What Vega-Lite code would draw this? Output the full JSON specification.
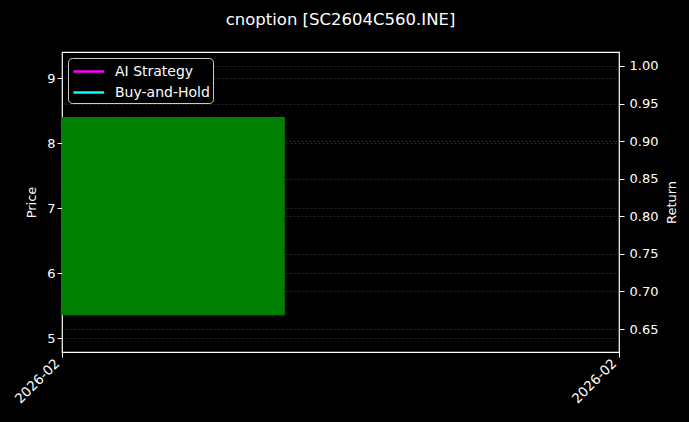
{
  "$schema": "https://vega.github.io/schema/vega-lite/v6.json",
  "width": 557,
  "height": 300,
  "autosize": {"type": "none"},
  "padding": {"left": 62, "top": 52, "right": 70, "bottom": 70},
  "background": "black",
  "title": {
    "text": "cnoption [SC2604C560.INE]",
    "color": "white",
    "font": "DejaVu Sans",
    "fontSize": 16.5,
    "fontWeight": "normal",
    "anchor": "middle",
    "offset": 24
  },
  "config": {
    "view": {"stroke": "white", "strokeWidth": 1.2},
    "axis": {
      "domain": false,
      "labelColor": "white",
      "labelFont": "DejaVu Sans",
      "labelFontSize": 13,
      "titleColor": "white",
      "titleFont": "DejaVu Sans",
      "titleFontSize": 13,
      "titleFontWeight": "normal",
      "tickColor": "white",
      "tickSize": 5,
      "gridColor": "#666666",
      "gridDash": [2, 2],
      "gridWidth": 0.7,
      "gridOpacity": 0.6
    },
    "legend": {
      "orient": "top-left",
      "offset": 6,
      "padding": 3,
      "strokeColor": "#cccccc",
      "fillColor": "black",
      "cornerRadius": 4,
      "labelColor": "white",
      "labelFont": "DejaVu Sans",
      "labelFontSize": 14,
      "labelOffset": 23,
      "symbolType": "M-0.9,0L2.5,0",
      "symbolSize": 324,
      "symbolStrokeWidth": 2.5,
      "rowPadding": 3
    }
  },
  "layer": [
    {
      "data": {
        "values": [
          {"start": "2026-02-10T00:00:00", "end": "2026-02-10T09:36:00", "open": 5.35, "close": 8.4}
        ]
      },
      "mark": {"type": "bar", "color": "green"},
      "encoding": {
        "x": {
          "field": "start",
          "type": "temporal",
          "scale": {"domain": [{"year": 2026, "month": 2, "date": 10}, {"year": 2026, "month": 2, "date": 11}]},
          "axis": {
            "title": null,
            "grid": false,
            "values": [{"year": 2026, "month": 2, "date": 10}, {"year": 2026, "month": 2, "date": 11}],
            "format": "%Y-%m",
            "labelAngle": -45,
            "labelAlign": "right",
            "labelBaseline": "middle",
            "labelPadding": 4,
            "labelOffset": -5,
            "labelFontSize": 13.5
          }
        },
        "x2": {"field": "end"},
        "y": {
          "field": "open",
          "type": "quantitative",
          "scale": {"domain": [4.785, 9.4], "nice": false, "zero": false},
          "axis": {"title": "Price", "orient": "left", "values": [5, 6, 7, 8, 9], "titlePadding": 8, "grid": true}
        },
        "y2": {"field": "close"}
      }
    },
    {
      "data": {
        "values": [
          {"date": "2026-02-10T00:00:00", "series": "AI Strategy", "ret": 1.0},
          {"date": "2026-02-10T00:00:00", "series": "Buy-and-Hold", "ret": 1.0}
        ]
      },
      "mark": {"type": "line", "strokeWidth": 2},
      "encoding": {
        "x": {"field": "date", "type": "temporal"},
        "y": {
          "field": "ret",
          "type": "quantitative",
          "scale": {"domain": [0.6194, 1.0186], "nice": false, "zero": false},
          "axis": {
            "title": "Return",
            "orient": "right",
            "grid": true,
            "values": [0.65, 0.7, 0.75, 0.8, 0.85, 0.9, 0.95, 1.0],
            "format": ".2f",
            "labelPadding": 5,
            "titleAngle": 270,
            "titleBaseline": "top",
            "titlePadding": 8
          }
        },
        "color": {
          "field": "series",
          "type": "nominal",
          "scale": {"domain": ["AI Strategy", "Buy-and-Hold"], "range": ["magenta", "cyan"]},
          "legend": {"title": null}
        }
      }
    }
  ],
  "resolve": {"scale": {"y": "independent"}}
}
